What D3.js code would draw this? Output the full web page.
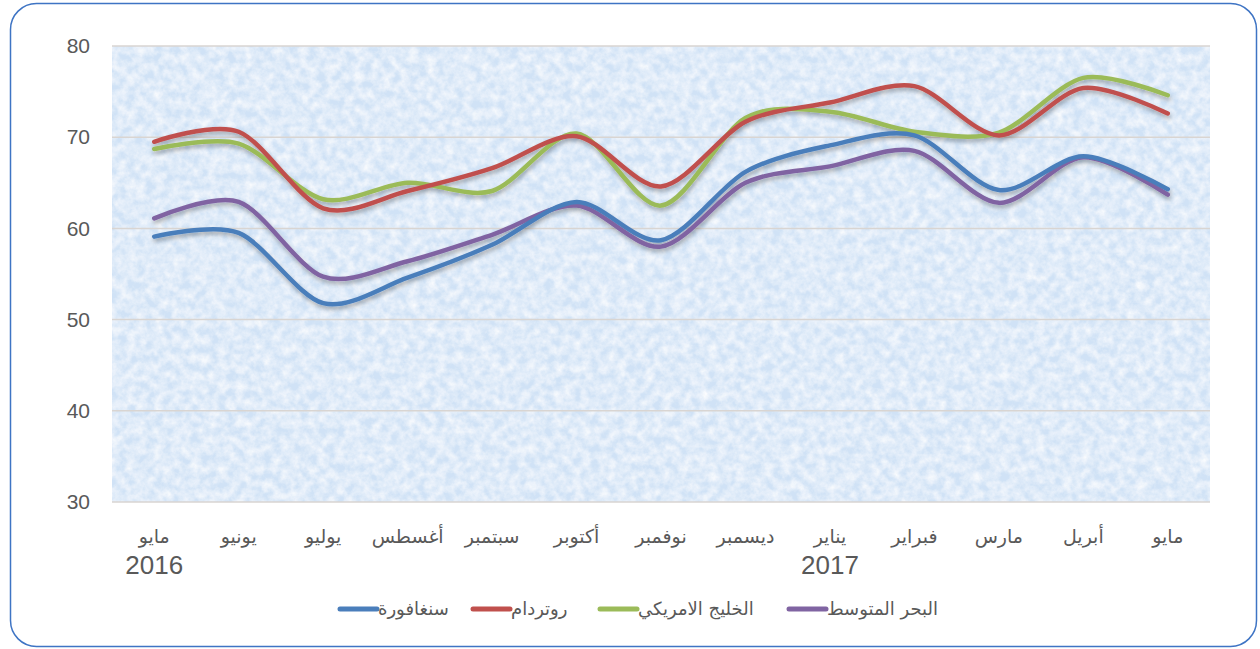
<!DOCTYPE html>
<html><head><meta charset="utf-8">
<script src="https://cdn.jsdelivr.net/npm/d3@7"></script>
<style>body{margin:0;background:#fff}svg{display:block}</style>
</head><body>
<svg id="c" width="1260" height="649"></svg>
<script>
const months = ["مايو","يونيو","يوليو","أغسطس","سبتمبر","أكتوبر","نوفمبر","ديسمبر","يناير","فبراير","مارس","أبريل","مايو"];
const years = ["2016","","","","","","","","2017","","","",""];
const yTicks = [30,40,50,60,70,80];
const singapore = [59.1,59.5,51.8,54.6,58.2,62.9,58.7,66.2,69.1,70.2,64.2,67.9,64.3];
const rotterdam = [69.5,70.6,62.2,64.1,66.6,70.1,64.6,71.7,73.8,75.6,70.2,75.4,72.6];
const gulf = [68.7,69.3,63.2,65.0,64.1,70.4,62.5,72.1,72.8,70.6,70.5,76.5,74.6];
const med = [61.1,62.9,54.7,56.4,59.3,62.5,58.0,65.0,66.8,68.5,62.8,67.8,63.7];
const seriesNames = ["سنغافورة","روتردام","الخليج الامريكي","البحر المتوسط"];
const seriesColors = ["#4a7ebb","#c0504d","#9bbb59","#8064a2"];
const seriesData = [singapore, rotterdam, gulf, med];

const svg = d3.select("#c");
const L=112,R=1210,T=46,B=502;
const defs = svg.append("defs");
const f = defs.append("filter").attr("id","tex").attr("x",0).attr("y",0).attr("width",1).attr("height",1);
f.append("feTurbulence").attr("type","fractalNoise").attr("baseFrequency","0.11").attr("numOctaves",4).attr("seed",7).attr("result","n");
f.append("feColorMatrix").attr("in","n").attr("type","matrix")
 .attr("values","0 0 0 0 1  0 0 0 0 1  0 0 0 0 1  1.3 0 0 0 -0.35").attr("result","w");
f.append("feFlood").attr("flood-color","#d0e2f6").attr("result","b");
f.append("feComposite").attr("in","w").attr("in2","b").attr("operator","over");
const sh = defs.append("filter").attr("id","sh").attr("x","-5%").attr("y","-20%").attr("width","110%").attr("height","140%");
sh.append("feDropShadow").attr("dx",1).attr("dy",3).attr("stdDeviation",2).attr("flood-color","#000").attr("flood-opacity",0.3);

svg.append("rect").attr("x",10.5).attr("y",3.5).attr("width",1246).attr("height",643).attr("rx",26)
  .attr("fill","#fff").attr("stroke","#3e74c4").attr("stroke-width",1.5);

svg.append("rect").attr("x",L).attr("y",T).attr("width",R-L).attr("height",B-T).attr("filter","url(#tex)");

const x = d3.scaleBand().domain(d3.range(months.length)).range([L,R]);
const y = d3.scaleLinear().domain([30,80]).range([B,T]);

svg.append("g").selectAll("line").data(yTicks).join("line")
  .attr("x1",L).attr("x2",R).attr("y1",d=>y(d)).attr("y2",d=>y(d))
  .attr("stroke","#d9d5d2").attr("stroke-width",1.5);

const yAxis = svg.append("g").attr("transform",`translate(${L},0)`)
  .call(d3.axisLeft(y).tickValues(yTicks).tickSize(0).tickPadding(22));
yAxis.select(".domain").remove();
yAxis.selectAll("text").attr("font-family","Liberation Sans, Arial, sans-serif").attr("font-size",21).attr("fill","#595959");

const xAxis = svg.append("g").attr("transform",`translate(0,${B})`)
  .call(d3.axisBottom(x).tickFormat(i=>months[i]).tickSize(0).tickPadding(28));
xAxis.select(".domain").remove();
xAxis.selectAll("text").attr("font-family","DejaVu Sans, sans-serif").attr("font-size",19).attr("fill","#595959");

svg.append("g").selectAll("text").data(years.map((v,i)=>({v,i})).filter(d=>d.v)).join("text")
  .attr("x",d=>x(d.i)+x.bandwidth()/2).attr("y",574).attr("text-anchor","middle")
  .attr("font-family","Liberation Sans, Arial, sans-serif").attr("font-size",26).attr("fill","#595959").text(d=>d.v);

const line = d3.line().x((d,i)=>x(i)+x.bandwidth()/2).y(d=>y(d)).curve(d3.curveCardinal.tension(0.1));
const order = [3,2,1,0];
svg.append("g").attr("filter","url(#sh)").selectAll("path").data(order).join("path")
  .attr("d",k=>line(seriesData[k])).attr("fill","none").attr("stroke",k=>seriesColors[k])
  .attr("stroke-width",4.5).attr("stroke-linecap","round");

// legend
const legX = [340,473,600,789];
const lg = svg.append("g");
seriesNames.forEach((n,k)=>{
  lg.append("line").attr("x1",legX[k]).attr("x2",legX[k]+37).attr("y1",609).attr("y2",609)
    .attr("stroke",seriesColors[k]).attr("stroke-width",5).attr("stroke-linecap","round");
  lg.append("text").attr("x",legX[k]+38).attr("y",615).attr("font-family","DejaVu Sans, sans-serif")
    .attr("font-size",18).attr("fill","#595959").attr("text-anchor","start").text(n);
});
</script>
</body></html>
